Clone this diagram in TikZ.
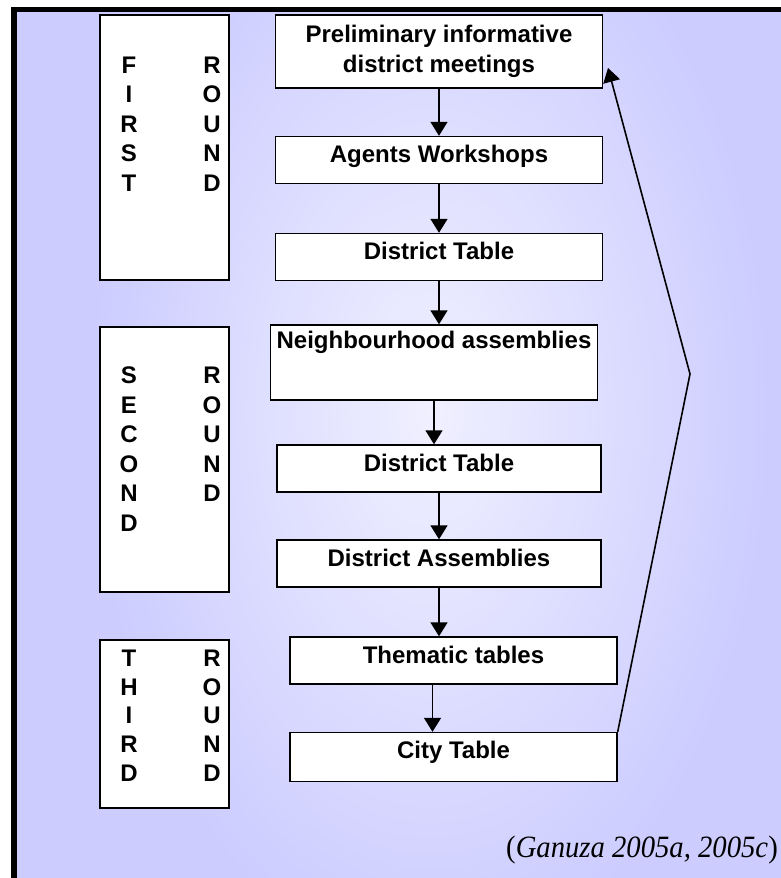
\documentclass[tikz,border=0pt]{standalone}
\usepackage{fontspec}
\setmainfont{Liberation Serif}
\setsansfont{Liberation Sans}
\usetikzlibrary{arrows.meta,backgrounds,positioning}
\definecolor{lav}{RGB}{204,204,255}
\definecolor{glow}{RGB}{240,240,255}

\begin{document}
\begin{tikzpicture}[x=1pt,y=-1pt,
  box/.style={draw,fill=white,line width=1.4pt,inner sep=0pt,minimum width=327pt,
    font=\sffamily\bfseries\fontsize{24}{30}\selectfont},
  onerow/.style={box,text height=26pt,text depth=21pt},
  roundbox/.style={draw,fill=white,line width=1.4pt,minimum width=129pt},
  letters/.style={align=center,inner sep=0pt,font=\sffamily\bfseries\fontsize{24}{29.5}\selectfont},
  flow/.style={-{Triangle[length=14pt,width=17pt]},line width=1.6pt}]
\useasboundingbox (0,0) rectangle (781,878);
\fill[lav] (14,9.5) rectangle (800,900);
\begin{scope}
\clip (14,9.5) rectangle (781,878);
\shade[inner color=glow,outer color=lav] (430,410) ellipse (340 and 560);
\end{scope}
\draw[line width=5.5pt] (14,9.5) rectangle (800,900);

\node[roundbox,minimum height=265pt] (r1) at (164.5,147.5) {};
\node[roundbox,minimum height=265pt] (r2) at (164.5,459.5) {};
\node[roundbox,minimum height=168pt] (r3) at (164.5,724) {};
\node[letters] (first) at (129,124) {F\\I\\R\\S\\T};
\node[letters] (round1) at (212,124) {R\\O\\U\\N\\D};
\node[letters] (second) at (129,449) {S\\E\\C\\O\\N\\D};
\node[letters] (round2) at (212,434.5) {R\\O\\U\\N\\D};
\node[letters,font=\sffamily\bfseries\fontsize{24}{28.75}\selectfont] (third) at (129,715.5) {T\\H\\I\\R\\D};
\node[letters,font=\sffamily\bfseries\fontsize{24}{28.75}\selectfont] (round3) at (212,715.5) {R\\O\\U\\N\\D};

\node[box,align=center,minimum height=73pt] (prelim) at (439,51.5) {Preliminary informative\\district meetings};
\node[onerow] (agents) at (439,160) {Agents Workshops};
\node[onerow] (dt1) at (439,257) {District Table};
\node[box,text height=23.5pt,text depth=51.5pt] (neigh) at (434,362.5) {Neighbourhood assemblies};
\node[onerow,minimum width=324pt] (dt2) at (439,468.5) {District Table};
\node[onerow,minimum width=324pt] (dassem) at (439,563.5) {District Assemblies};
\node[onerow] (them) at (453.5,660.5) {Thematic tables};
\node[onerow,text depth=23pt] (city) at (453.5,757) {City Table};

\foreach \a/\b in {prelim/agents,agents/dt1,dt1/neigh,neigh/dt2,dt2/dassem,dassem/them}
  \draw[flow] (\a.south) -- (\a.south |- \b.north);
\draw[flow] ([xshift=-21pt]them.south) -- ([xshift=-21pt]city.north);

\coordinate (peak) at (690,374);
\coordinate (back) at (608,68);
\draw[flow] (city.north east) -- (peak) -- (back);

\node[anchor=base east,inner sep=0pt,font=\fontsize{31}{36}\selectfont] (src) at (778,857) {\scalebox{0.925}[1]{(\textit{Ganuza 2005a, 2005c})}};
\end{tikzpicture}
\end{document}
